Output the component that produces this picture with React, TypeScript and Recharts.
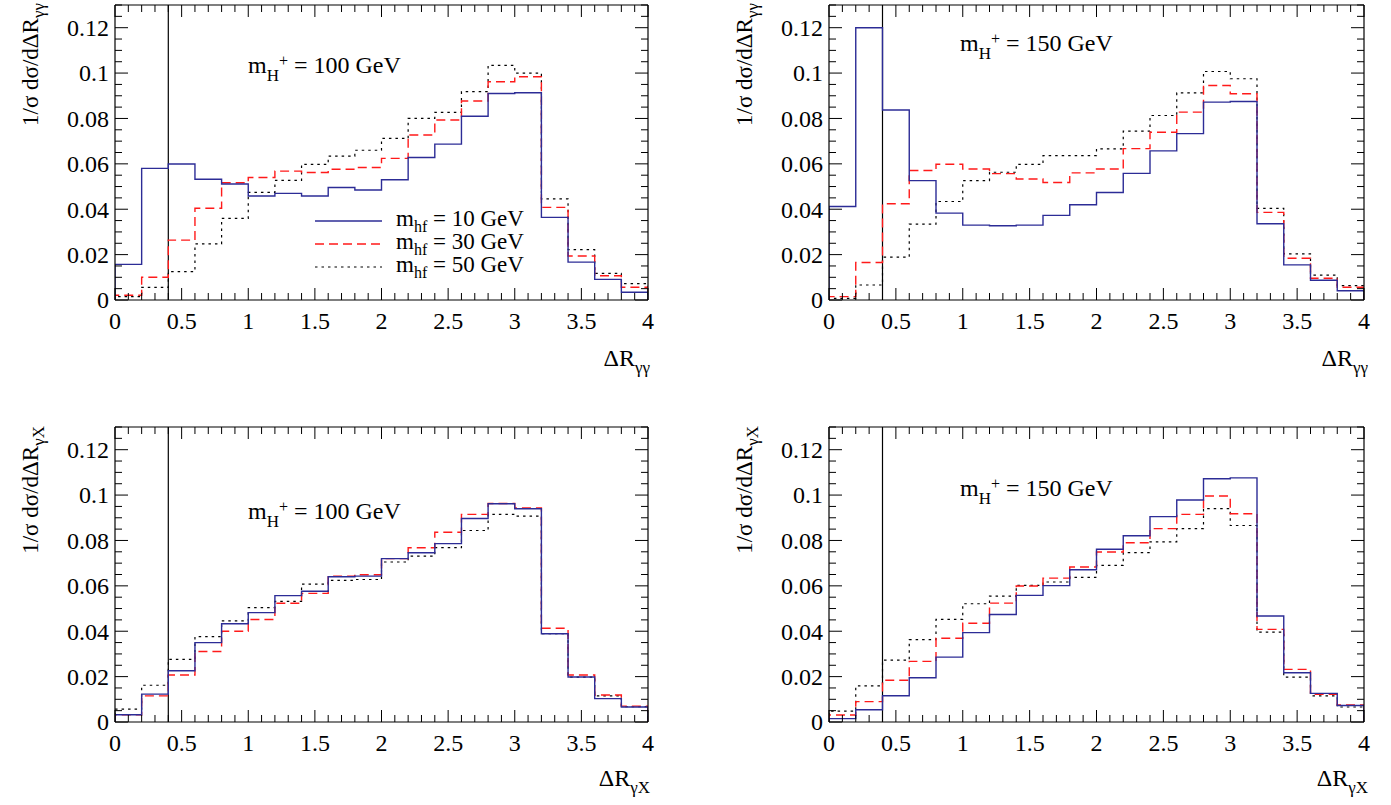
import { ComposedChart, Line, XAxis, YAxis, ReferenceLine } from "recharts";

const FONT = '"Liberation Serif", "DejaVu Serif", "Times New Roman", serif';
const BLUE = "#2c2c96";
const RED = "#ff1a1a";
const BLACK = "#000";

// lower bin edges, bin width 0.2
const binLow = [0, 0.2, 0.4, 0.6, 0.8, 1.0, 1.2, 1.4, 1.6, 1.8, 2.0, 2.2, 2.4, 2.6, 2.8, 3.0, 3.2, 3.4, 3.6, 3.8];
const binTop = 4;
const cutAt = 0.4;

const xLabels = [0, 0.5, 1, 1.5, 2, 2.5, 3, 3.5, 4];
const yLabels = [0, 0.02, 0.04, 0.06, 0.08, 0.1, 0.12];
const yMax = 0.13;

const seriesNames = ["m_hf = 10 GeV", "m_hf = 30 GeV", "m_hf = 50 GeV"];
const hfMasses = ["10", "30", "50"];

// ΔR(γγ), m_H+ = 100 GeV
const gg100_hf10 = [0.0157, 0.058, 0.0599, 0.0532, 0.0511, 0.0458, 0.047, 0.0458, 0.0496, 0.0485, 0.053, 0.0628, 0.0687, 0.081, 0.091, 0.0913, 0.0364, 0.0167, 0.0091, 0.0034];
const gg100_hf30 = [0.0021, 0.01, 0.0264, 0.0404, 0.0517, 0.054, 0.0568, 0.0562, 0.0576, 0.0584, 0.0624, 0.0727, 0.0793, 0.0877, 0.0962, 0.0984, 0.0408, 0.0194, 0.0107, 0.0056];
const gg100_hf50 = [0.0015, 0.0056, 0.0125, 0.0247, 0.036, 0.0474, 0.0527, 0.0598, 0.0634, 0.066, 0.0712, 0.08, 0.0827, 0.0918, 0.1034, 0.1, 0.0446, 0.0222, 0.0117, 0.0072];

// ΔR(γγ), m_H+ = 150 GeV
const gg150_hf10 = [0.0412, 0.12, 0.0837, 0.0526, 0.0383, 0.033, 0.0327, 0.033, 0.0373, 0.042, 0.0474, 0.0558, 0.0657, 0.0733, 0.0872, 0.0875, 0.0336, 0.0155, 0.0087, 0.0041];
const gg150_hf30 = [0.0015, 0.0165, 0.0424, 0.0571, 0.0598, 0.0577, 0.0557, 0.0533, 0.0518, 0.056, 0.0577, 0.0667, 0.0739, 0.0828, 0.0945, 0.0909, 0.0386, 0.0184, 0.0096, 0.0056];
const gg150_hf50 = [0.0007, 0.0066, 0.0189, 0.0334, 0.0434, 0.0526, 0.0563, 0.0598, 0.0636, 0.0636, 0.0666, 0.0744, 0.0813, 0.0913, 0.1007, 0.0975, 0.0404, 0.0203, 0.011, 0.0063];

// ΔR(γX), m_H+ = 100 GeV
const gx100_hf10 = [0.0032, 0.0123, 0.0226, 0.035, 0.0433, 0.0482, 0.0557, 0.0576, 0.064, 0.0643, 0.072, 0.0746, 0.0786, 0.0897, 0.0962, 0.094, 0.0389, 0.0198, 0.0103, 0.0066];
const gx100_hf30 = [0.0032, 0.0115, 0.0207, 0.0311, 0.04, 0.0452, 0.0523, 0.0567, 0.0643, 0.0649, 0.072, 0.0768, 0.0836, 0.0915, 0.0963, 0.0943, 0.0413, 0.0207, 0.0119, 0.007];
const gx100_hf50 = [0.0057, 0.0162, 0.0276, 0.0376, 0.0446, 0.0504, 0.0532, 0.0608, 0.0624, 0.0628, 0.0705, 0.0731, 0.0768, 0.0844, 0.0915, 0.0907, 0.0389, 0.0198, 0.0115, 0.0068];

// ΔR(γX), m_H+ = 150 GeV
const gx150_hf10 = [0.0015, 0.0054, 0.0116, 0.0195, 0.0286, 0.0394, 0.0474, 0.0558, 0.0601, 0.0671, 0.0761, 0.0821, 0.0905, 0.0978, 0.1072, 0.1076, 0.0467, 0.0217, 0.0126, 0.0073];
const gx150_hf30 = [0.0031, 0.009, 0.0184, 0.0267, 0.0369, 0.0435, 0.0524, 0.0599, 0.0634, 0.0683, 0.0749, 0.079, 0.0852, 0.0915, 0.0996, 0.0918, 0.0408, 0.0232, 0.0122, 0.0075];
const gx150_hf50 = [0.0048, 0.0159, 0.0273, 0.0363, 0.0452, 0.0521, 0.0555, 0.0602, 0.0617, 0.0637, 0.069, 0.0746, 0.0794, 0.0852, 0.094, 0.0866, 0.0396, 0.0198, 0.0115, 0.0066];

const styles = [
  { stroke: BLUE, dash: undefined as string | undefined, width: 1.4 },
  { stroke: RED, dash: "9 5", width: 1.4 },
  { stroke: BLACK, dash: "2.5 4", width: 1.2 },
];

// histogram outline: rise from 0 at the first edge, drop to 0 at the last
function toSteps(values: number[]) {
  const pts = [{ x: binLow[0], y: 0 }];
  values.forEach((v, i) => pts.push({ x: binLow[i], y: v }));
  pts.push({ x: binTop, y: values[values.length - 1] });
  pts.push({ x: binTop, y: 0 });
  return pts;
}

// minor tick positions (axis decoration only)
const xTicks = Array.from({ length: 41 }, (_, i) => +(i * 0.1).toFixed(1));
const yTicks = Array.from({ length: 27 }, (_, i) => +(i * 0.005).toFixed(3));

const onGrid = (v: number, step: number) => Math.abs(v / step - Math.round(v / step)) < 1e-6;
const fmt = (v: number) => String(+v.toFixed(3));

function BottomTick(props: any) {
  const { x, y, payload } = props;
  const v = payload.value;
  const major = xLabels.some((l) => Math.abs(l - v) < 1e-6);
  return (
    <g>
      <line x1={x} x2={x} y1={y} y2={y - (major ? 12 : 7)} stroke="#000" strokeWidth={1} />
      {major && (
        <text x={x} y={y + 29} textAnchor="middle" fontFamily={FONT} fontSize={24} fill="#000">
          {fmt(v)}
        </text>
      )}
    </g>
  );
}

function TopTick(props: any) {
  const { x, y, payload } = props;
  const major = onGrid(payload.value, 0.5);
  return <line x1={x} x2={x} y1={y} y2={y + (major ? 12 : 7)} stroke="#000" strokeWidth={1} />;
}

function LeftTick(props: any) {
  const { x, y, payload } = props;
  const v = payload.value;
  const major = yLabels.some((l) => Math.abs(l - v) < 1e-6);
  return (
    <g>
      <line x1={x} x2={x + (major ? 13 : 7)} y1={y} y2={y} stroke="#000" strokeWidth={1} />
      {major && (
        <text x={x - 6} y={y} dy="0.35em" textAnchor="end" fontFamily={FONT} fontSize={24} fill="#000">
          {fmt(v)}
        </text>
      )}
    </g>
  );
}

function RightTick(props: any) {
  const { x, y, payload } = props;
  const major = onGrid(payload.value, 0.02);
  return <line x1={x} x2={x - (major ? 13 : 7)} y1={y} y2={y} stroke="#000" strokeWidth={1} />;
}

type PanelProps = {
  left: number;
  top: number;
  width: number;
  marginRight: number;
  series: number[][];
};

const AXIS = 1; // thickness reserved by each axis

function Panel({ left, top, width, marginRight, series }: PanelProps) {
  const order = [2, 1, 0];
  const common = {
    type: "number" as const,
    interval: 0 as const,
    tickSize: 0,
    tickMargin: 0,
    tickLine: false,
    axisLine: { stroke: "#000", strokeWidth: 1.2 },
    allowDataOverflow: true,
  };
  return (
    <div style={{ position: "absolute", left, top }}>
      <ComposedChart
        width={width}
        height={360}
        margin={{ top: 5 - AXIS, right: marginRight - AXIS, bottom: 60 - AXIS, left: 115 - AXIS }}
      >
        <XAxis
          {...common}
          xAxisId={0}
          dataKey="x"
          domain={[0, binTop]}
          ticks={xTicks}
          height={AXIS}
          tick={(p: any) => <BottomTick {...p} />}
        />
        <XAxis
          {...common}
          xAxisId="top"
          orientation="top"
          dataKey="x"
          domain={[0, binTop]}
          ticks={xTicks}
          height={AXIS}
          tick={(p: any) => <TopTick {...p} />}
        />
        <YAxis
          {...common}
          yAxisId={0}
          domain={[0, yMax]}
          ticks={yTicks}
          width={AXIS}
          tick={(p: any) => <LeftTick {...p} />}
        />
        <YAxis
          {...common}
          yAxisId="right"
          orientation="right"
          domain={[0, yMax]}
          ticks={yTicks}
          width={AXIS}
          tick={(p: any) => <RightTick {...p} />}
        />
        <ReferenceLine x={cutAt} stroke="#000" strokeWidth={1.2} />
        {order.map((i) => (
          <Line
            key={seriesNames[i]}
            name={seriesNames[i]}
            data={toSteps(series[i])}
            dataKey="y"
            type="stepAfter"
            stroke={styles[i].stroke}
            strokeWidth={styles[i].width}
            strokeDasharray={styles[i].dash}
            dot={false}
            activeDot={false}
            isAnimationActive={false}
          />
        ))}
      </ComposedChart>
    </div>
  );
}

const txt = { fontFamily: FONT, fill: "#000" } as const;

function YTitle({ x, y, sub }: { x: number; y: number; sub: string }) {
  return (
    <text {...txt} fontSize={23} textAnchor="end" transform={`rotate(-90 ${x} ${y})`} x={x} y={y}>
      1/σ dσ/dΔR
      <tspan dy={6} fontSize={17}>
        {sub}
      </tspan>
    </text>
  );
}

function XTitle({ x, y, sub }: { x: number; y: number; sub: string }) {
  return (
    <text {...txt} fontSize={24} textAnchor="end" x={x} y={y}>
      ΔR
      <tspan dy={7} fontSize={17}>
        {sub}
      </tspan>
    </text>
  );
}

function MassLabel({ x, y, mass }: { x: number; y: number; mass: string }) {
  return (
    <text {...txt} fontSize={24} x={x} y={y}>
      m
      <tspan dy={8} fontSize={17}>
        H
      </tspan>
      <tspan dy={-15} fontSize={16}>
        +
      </tspan>
      <tspan dy={7} fontSize={24}>
        {" "}= {mass} GeV
      </tspan>
    </text>
  );
}

function LegendBox() {
  const rows = [221, 244, 267];
  return (
    <g>
      {rows.map((ly, i) => (
        <g key={seriesNames[i]}>
          <line
            x1={315}
            x2={382}
            y1={ly}
            y2={ly}
            stroke={styles[i].stroke}
            strokeWidth={styles[i].width}
            strokeDasharray={styles[i].dash}
          />
          <text {...txt} fontSize={23} x={396} y={ly + 5}>
            m
            <tspan dy={6} fontSize={16}>
              hf
            </tspan>
            <tspan dy={-6} fontSize={23}>
              {" "}= {hfMasses[i]} GeV
            </tspan>
          </text>
        </g>
      ))}
    </g>
  );
}

export default function App() {
  return (
    <div
      style={{
        position: "absolute",
        left: 0,
        top: 0,
        width: 1391,
        height: 805,
        overflow: "hidden",
        background: "#fff",
      }}
    >
      <Panel left={0} top={0} width={700} marginRight={52} series={[gg100_hf10, gg100_hf30, gg100_hf50]} />
      <Panel left={714} top={0} width={677} marginRight={27} series={[gg150_hf10, gg150_hf30, gg150_hf50]} />
      <Panel left={0} top={422} width={700} marginRight={52} series={[gx100_hf10, gx100_hf30, gx100_hf50]} />
      <Panel left={714} top={422} width={677} marginRight={27} series={[gx150_hf10, gx150_hf30, gx150_hf50]} />
      <svg
        width={1391}
        height={805}
        style={{ position: "absolute", left: 0, top: 0, pointerEvents: "none" }}
      >
        <YTitle x={38} y={3} sub="γγ" />
        <YTitle x={752} y={3} sub="γγ" />
        <YTitle x={38} y={426} sub="γX" />
        <YTitle x={752} y={426} sub="γX" />
        <XTitle x={650} y={366} sub="γγ" />
        <XTitle x={1368} y={366} sub="γγ" />
        <XTitle x={650} y={786} sub="γX" />
        <XTitle x={1368} y={786} sub="γX" />
        <MassLabel x={248} y={73} mass="100" />
        <MassLabel x={960} y={51} mass="150" />
        <MassLabel x={248} y={519} mass="100" />
        <MassLabel x={960} y={496} mass="150" />
        <LegendBox />
      </svg>
    </div>
  );
}
